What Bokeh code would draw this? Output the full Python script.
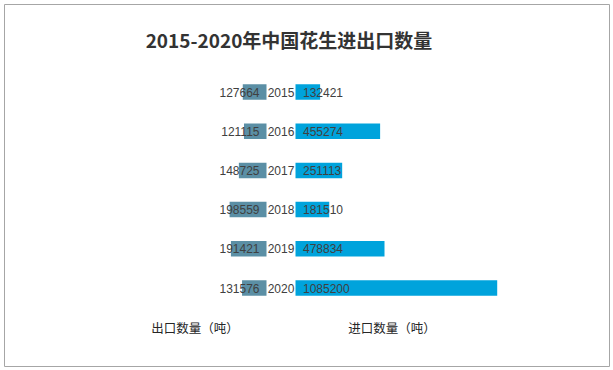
from bokeh.plotting import figure
from bokeh.models import ColumnDataSource, Range1d
from bokeh.core.properties import value
from bokeh.embed import file_html
from bokeh.resources import INLINE

# ---- data ----
years = ["2015", "2016", "2017", "2018", "2019", "2020"]
export_qty = [127664, 121115, 148725, 198559, 191421, 131576]
import_qty = [132421, 455274, 251113, 181510, 478834, 1085200]
title_text = "2015-2020年中国花生进出口数量"
left_label = "出口数量（吨）"
right_label = "进口数量（吨）"

# ---- layout constants ----
FW, FH = 606, 363      # frame size
PAD = 4
PX = 5380.0            # tons per screen pixel
CENTER_PX = 276.5      # pixel of the centre line inside the frame
HALF_GAP = 14.5 * PX
ROW0_PX, ROW_STEP = 87.5, 39.2

x_start = -CENTER_PX * PX
x_end = x_start + FW * PX
y_top = -ROW0_PX / ROW_STEP
y_bottom = (FH - ROW0_PX) / ROW_STEP

idx = list(range(len(years)))
src = ColumnDataSource(dict(
    y=idx,
    year=years,
    exp_txt=[str(v) for v in export_qty],
    imp_txt=[str(v) for v in import_qty],
    exp_left=[-HALF_GAP - v for v in export_qty],
    exp_right=[-HALF_GAP] * len(years),
    imp_left=[HALF_GAP] * len(years),
    imp_right=[HALF_GAP + v for v in import_qty],
    zero=[0] * len(years),
))

p = figure(width=FW + PAD, height=FH + PAD, output_backend="svg",
           toolbar_location=None,
           x_range=Range1d(x_start, x_end), y_range=Range1d(y_bottom, y_top),
           x_axis_type=None, y_axis_type=None,
           min_border_left=PAD, min_border_top=PAD,
           min_border_right=0, min_border_bottom=0,
           background_fill_color="white", border_fill_color="white")
p.grid.visible = False
p.outline_line_color = "#A6A6A6"
p.outline_line_width = 1

bar_h = 0.395
p.hbar(y="y", left="exp_left", right="exp_right", height=bar_h, source=src,
       fill_color="#5B8FA5", line_color=None)
p.hbar(y="y", left="imp_left", right="imp_right", height=bar_h, source=src,
       fill_color="#00A3DC", line_color=None)

num_font = value("Liberation Sans")
txt_col = "#404040"
p.text(x="exp_right", y="y", text="exp_txt", source=src, x_offset=-7,
       text_align="right", text_baseline="middle", text_font=num_font,
       text_font_size="12px", text_color=txt_col)
p.text(x="zero", y="y", text="year", source=src,
       text_align="center", text_baseline="middle", text_font=num_font,
       text_font_size="12px", text_color=txt_col)
p.text(x="imp_left", y="y", text="imp_txt", source=src, x_offset=7.5,
       text_align="left", text_baseline="middle", text_font=num_font,
       text_font_size="12px", text_color=txt_col)

cjk = value("Noto Sans CJK SC")
lab_y = (323 - ROW0_PX) / ROW_STEP
p.text(x=[-86 * PX], y=[lab_y], text=[left_label], text_align="center",
       text_baseline="middle", text_font=cjk, text_font_size="12.5px",
       text_color="#262626")
p.text(x=[111 * PX], y=[lab_y], text=[right_label], text_align="center",
       text_baseline="middle", text_font=cjk, text_font_size="12.5px",
       text_color="#262626")

title_y = (35 - ROW0_PX) / ROW_STEP
p.text(x=[8 * PX], y=[title_y], text=[title_text], text_align="center",
       text_baseline="middle", text_font=cjk, text_font_size="19px",
       text_font_style="bold", text_color="#333333")

open("out.html", "w").write(file_html(p, INLINE))
